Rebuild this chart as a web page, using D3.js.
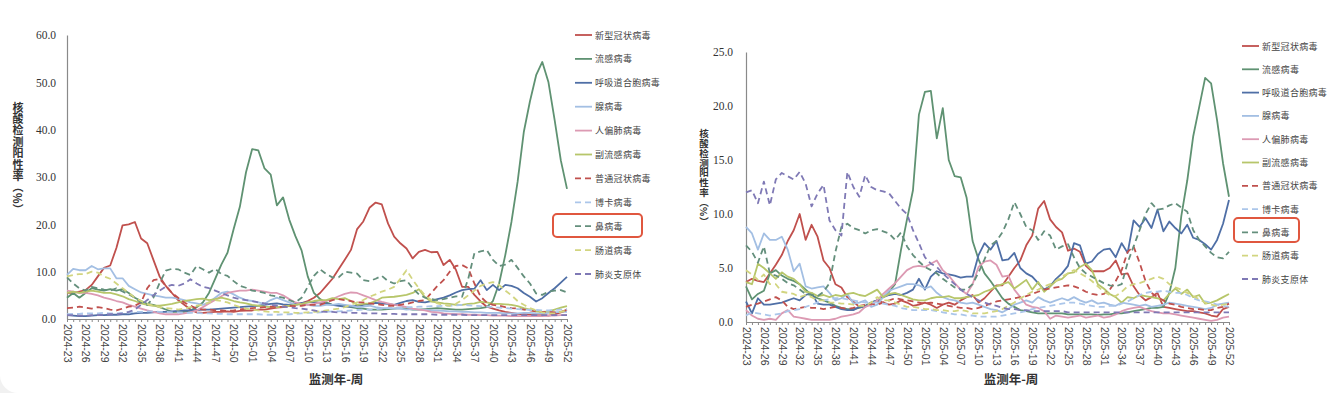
<!DOCTYPE html>
<html>
<head>
<meta charset="utf-8">
<script src="https://cdn.jsdelivr.net/npm/d3@7"></script>
<style>
  html, body { margin: 0; padding: 0; background: #f1f1f1; }
  svg { display: block; }
</style>
</head>
<body>
<svg id="chart" width="1337" height="393"></svg>
<script>
// categories: surveillance year-week, 2024-23 .. 2025-52
var weeks = ["2024-23","2024-24","2024-25","2024-26","2024-27","2024-28","2024-29","2024-30","2024-31","2024-32",
  "2024-33","2024-34","2024-35","2024-36","2024-37","2024-38","2024-39","2024-40","2024-41","2024-42",
  "2024-43","2024-44","2024-45","2024-46","2024-47","2024-48","2024-49","2024-50","2024-51","2024-52",
  "2025-01","2025-02","2025-03","2025-04","2025-05","2025-06","2025-07","2025-08","2025-09","2025-10",
  "2025-11","2025-12","2025-13","2025-14","2025-15","2025-16","2025-17","2025-18","2025-19","2025-20",
  "2025-21","2025-22","2025-23","2025-24","2025-25","2025-26","2025-27","2025-28","2025-29","2025-30",
  "2025-31","2025-32","2025-33","2025-34","2025-35","2025-36","2025-37","2025-38","2025-39","2025-40",
  "2025-41","2025-42","2025-43","2025-44","2025-45","2025-46","2025-47","2025-48","2025-49","2025-50",
  "2025-51","2025-52"];

var seriesNames = ["新型冠状病毒","流感病毒","呼吸道合胞病毒","腺病毒","人偏肺病毒","副流感病毒",
  "普通冠状病毒","博卡病毒","鼻病毒","肠道病毒","肺炎支原体"];

var yTicksA = [0, 10, 20, 30, 40, 50, 60];
var yTicksB = [0, 5, 10, 15, 20, 25];

// ---- left panel values (%)
var covidA = [5.5,5.5,5.8,6.1,7.2,9.0,10.8,11.3,15.0,19.8, 20.0,20.5,17.0,16.0,12.5,9.0,7.0,5.5,4.0,3.0,
  2.0,1.4,1.3,1.4,1.5,1.5,1.6,1.5,1.7,1.8, 1.8,2.0,2.0,2.2,2.4,2.5,2.8,3.0,3.3,3.8,
  4.5,5.5,7.0,8.5,10.5,12.5,14.6,19.0,20.6,23.5, 24.6,24.2,20.2,17.4,16.0,14.9,12.8,14.2,14.6,14.1,
  14.2,11.4,12.5,10.4,6.8,6.8,5.1,3.7,2.6,2.2, 1.8,1.5,1.3,1.1,1.0,0.9,0.8,0.8,0.7,1.0, 1.4,2.0];
var fluA = [4.5,5.5,4.5,5.5,6.5,6.2,6.0,6.3,6.0,6.3, 5.5,4.5,3.8,3.2,3.0,2.5,2.0,1.5,1.5,1.5,
  1.8,2.5,3.5,5.5,8.5,11.5,14.0,19.0,23.7,31.0, 35.9,35.6,31.8,30.5,24.0,25.7,21.0,17.5,14.5,9.0,
  5.5,4.2,3.5,3.0,3.0,2.8,2.5,2.3,2.2,2.0, 2.0,2.0,2.1,2.2,2.3,2.2,2.0,2.0,2.1,2.2,
  2.3,2.2,2.1,2.0,2.0,2.1,2.2,2.3,2.5,3.8, 7.5,13.5,20.5,29.0,39.5,46.0,51.5,54.3,50.0,42.0, 33.5,27.5];
var rsvA = [0.8,0.7,0.6,0.6,0.7,0.8,0.8,0.9,0.9,1.0, 1.0,1.2,1.3,1.3,1.4,1.5,1.5,1.6,1.7,1.8,
  1.8,1.9,2.0,2.0,2.1,2.2,2.3,2.4,2.5,2.6, 2.7,2.8,3.0,3.2,3.3,3.1,3.0,3.2,3.4,3.5,
  3.6,3.4,3.2,3.0,2.8,2.6,2.6,2.8,3.0,3.2, 3.4,3.3,3.2,3.0,3.4,3.8,4.0,3.6,3.5,3.8,
  4.2,4.5,5.0,5.6,6.1,6.3,6.4,8.2,6.1,7.2, 6.1,7.2,7.0,6.5,5.5,4.7,3.7,4.4,5.5,6.5, 7.7,8.9];
var adenoA = [9.3,10.6,10.3,10.3,11.2,10.5,10.7,10.7,8.6,8.6, 7.0,6.3,5.6,5.3,5.0,4.8,4.5,4.5,4.3,4.0,
  3.5,3.3,3.0,3.5,4.5,5.5,5.8,5.2,4.5,4.0, 3.8,3.5,3.2,4.0,4.5,4.0,3.5,3.0,3.2,3.0,
  2.8,2.8,3.0,3.0,3.2,3.0,2.8,2.5,2.6,2.8, 2.5,2.3,2.3,2.2,2.2,2.0,2.1,2.0,2.0,1.8,
  1.8,1.7,1.6,1.6,1.5,1.5,1.4,1.4,1.3,1.3, 1.3,1.2,1.2,1.2,1.3,1.3,1.2,1.2,1.3,1.4, 1.5,1.5];
var hmpvA = [6.0,5.8,5.5,5.5,5.3,5.0,4.5,4.2,3.8,3.5, 3.0,2.6,2.2,1.8,1.5,1.2,1.0,1.0,1.0,1.2,
  1.4,1.8,2.5,3.3,4.0,4.8,5.5,5.8,6.0,6.0, 6.2,6.0,5.8,5.5,5.5,5.0,4.2,3.5,3.2,3.0,
  3.2,3.5,3.8,4.2,4.8,5.3,5.6,5.5,5.0,4.5, 4.0,3.6,3.3,3.0,2.8,2.5,2.2,2.0,1.8,1.5,
  1.4,1.2,1.1,1.0,1.0,0.9,0.9,0.8,0.8,0.7, 0.7,0.7,0.6,0.6,0.6,0.6,0.6,0.6,0.7,0.7, 0.8,0.8];
var parafluA = [5.5,5.8,5.5,5.8,6.0,5.8,5.5,5.5,5.2,4.8, 4.2,3.8,3.3,3.0,2.8,2.8,3.0,3.2,3.5,3.8,
  4.0,4.2,4.3,4.0,4.2,4.5,4.2,3.8,3.5,3.3, 3.0,2.8,2.6,2.5,2.5,2.6,2.8,3.0,3.2,3.5,
  3.8,4.0,4.0,4.4,4.2,4.4,3.8,3.0,3.2,3.3, 3.8,4.5,4.6,4.7,4.9,5.1,5.5,6.3,4.6,3.7,
  3.5,3.3,3.2,3.0,3.0,3.2,3.3,3.6,3.5,3.2, 3.2,3.1,3.0,2.7,2.3,2.0,1.6,1.5,1.6,2.0, 2.4,2.7];
var cocA = [2.3,2.4,2.6,2.4,2.2,2.5,2.3,2.0,1.8,2.2, 2.6,2.8,3.5,6.5,8.2,8.5,7.0,5.5,4.5,3.5,
  2.8,2.2,2.0,2.0,1.8,1.8,1.7,1.8,2.0,2.2, 2.3,2.4,2.5,2.6,2.5,2.6,2.8,2.7,2.8,3.0,
  3.0,3.0,3.5,4.0,4.2,4.0,3.8,3.5,3.5,3.3, 3.2,3.0,2.8,2.8,3.0,3.2,3.5,3.8,4.0,5.5,
  7.0,8.2,10.0,11.2,11.4,10.7,7.5,4.7,3.5,3.0, 2.8,2.5,2.3,2.2,2.0,1.8,1.6,1.5,1.5,1.4, 1.5,1.8];
var bocaA = [1.0,1.1,1.1,1.2,1.2,1.2,1.3,1.2,1.2,1.3, 1.4,1.5,1.5,1.6,1.6,1.5,1.5,1.4,1.4,1.3,
  1.3,1.3,1.2,1.2,1.1,1.1,1.0,1.0,1.0,1.0, 1.0,1.0,0.9,0.9,0.9,1.0,1.0,1.1,1.2,1.3,
  1.3,1.4,1.5,1.6,1.6,1.7,1.8,1.9,2.0,2.0, 2.1,2.2,2.3,2.4,2.4,2.5,2.5,2.6,2.6,2.7,
  2.7,2.8,2.8,2.9,3.0,2.9,2.8,2.7,2.6,2.5, 2.4,2.3,2.2,2.1,2.0,1.9,1.9,1.8,1.8,1.9, 2.0,2.1];
var rhinoA = [8.8,7.5,6.5,6.0,6.8,6.5,6.2,6.0,6.5,5.8, 5.2,4.5,3.5,3.0,4.5,7.6,10.2,10.6,10.5,9.8,
  9.3,11.2,10.5,9.8,10.6,9.5,9.1,8.0,7.0,6.6, 6.0,5.8,5.5,5.0,4.8,4.5,4.0,3.5,4.5,6.8,
  9.1,10.5,9.5,8.8,8.8,10.0,9.8,9.6,8.2,8.0, 8.5,9.1,8.0,7.5,8.0,8.2,6.5,5.2,4.5,4.2,
  4.0,4.2,4.5,4.8,4.7,8.5,13.9,14.3,14.6,12.5, 11.2,11.5,12.5,10.8,9.0,7.5,5.4,5.1,5.8,6.0, 6.1,5.6];
var enteroA = [9.0,9.3,9.5,9.5,10.0,9.8,9.0,8.5,7.5,6.5, 5.5,4.5,3.8,3.2,2.8,2.5,2.3,2.2,2.0,2.2,
  2.5,2.8,3.0,3.5,4.0,3.8,3.5,3.0,2.5,2.2, 2.0,1.8,1.6,1.5,1.5,1.4,1.4,1.3,1.3,1.4,
  1.5,1.6,1.8,2.0,2.2,2.5,3.0,3.5,4.0,4.7, 5.2,5.8,6.2,6.8,8.5,10.3,8.3,6.5,5.0,4.0,
  3.3,3.0,2.8,3.2,4.0,5.0,6.0,7.0,7.5,7.8, 7.2,6.0,5.0,3.8,3.0,2.3,1.8,1.4,1.2,1.2, 1.5,1.8];
var mycoA = [0.8,0.8,0.7,0.7,0.8,0.8,0.9,1.0,1.0,1.2, 1.5,2.0,3.0,4.0,5.0,6.0,6.8,7.2,7.0,7.5,
  8.4,7.5,6.8,6.5,6.0,5.5,5.0,4.5,4.2,4.0, 3.8,3.5,3.3,3.0,2.8,2.6,2.5,2.3,2.2,2.0,
  1.8,1.6,1.5,1.5,1.4,1.4,1.3,1.3,1.2,1.2, 1.2,1.1,1.1,1.1,1.0,1.0,1.0,1.0,1.0,1.0,
  0.9,0.9,0.9,0.9,0.9,0.8,0.8,0.8,0.8,0.8, 0.8,0.8,0.8,0.8,0.8,0.8,0.8,0.8,0.8,0.8, 0.8,0.8];

// ---- right panel values (%)
var covidB = [3.7,4.0,3.8,3.7,4.5,5.3,6.2,7.5,8.5,10.0, 7.6,9.0,7.9,5.7,5.0,3.5,3.2,2.3,1.9,1.4,
  1.5,1.6,2.0,1.8,1.6,1.7,2.0,1.8,1.5,1.6, 1.8,1.6,1.3,1.6,1.8,1.6,2.0,2.3,2.5,1.8,
  2.2,2.8,3.4,3.4,4.2,5.0,5.7,7.1,8.0,10.5, 11.2,9.5,8.8,8.3,6.6,6.8,6.5,5.2,4.7,4.7,
  4.7,5.0,5.7,4.4,4.5,3.3,2.5,2.0,2.3,2.7, 1.4,1.3,1.2,1.1,1.0,1.0,0.9,0.8,0.6,0.5, 1.2,1.4];
var fluB = [3.3,2.1,2.6,2.9,4.5,4.8,4.3,4.0,3.8,3.5, 3.0,2.5,2.2,2.0,1.8,1.5,1.3,1.2,1.2,1.3,
  1.5,1.8,2.0,2.3,2.8,3.5,6.7,9.5,12.2,19.2, 21.3,21.4,17.0,19.8,15.0,13.5,13.4,11.5,7.5,5.8,
  4.5,3.8,3.0,2.2,1.7,1.4,1.1,1.0,0.9,0.8, 0.8,0.8,0.8,0.8,0.7,0.7,0.7,0.7,0.7,0.65,
  0.7,0.7,0.8,0.8,0.9,1.0,1.1,1.2,1.3,1.3, 1.4,2.7,5.0,9.8,13.1,17.2,19.9,22.6,22.1,18.7, 14.7,11.6];
var rsvB = [1.9,0.8,2.2,1.6,1.6,1.7,1.8,2.0,2.2,2.0, 2.5,2.7,1.7,1.6,1.6,1.4,1.2,1.1,1.1,1.4,
  1.4,1.8,2.0,2.3,2.5,2.6,2.5,2.7,3.0,4.0, 3.0,4.2,4.7,4.5,4.4,4.3,4.1,4.2,4.2,6.2,
  7.3,6.7,7.5,5.7,5.8,6.4,5.0,4.5,4.2,3.6, 3.0,3.3,4.0,4.5,5.2,7.3,7.1,5.4,5.6,6.3,
  6.7,6.8,6.0,7.3,6.4,9.4,8.8,9.6,8.7,10.4, 8.4,9.3,8.7,8.2,9.0,7.8,7.6,7.2,6.7,7.6, 9.1,11.3];
var adenoB = [8.8,8.2,6.7,8.2,7.6,7.6,7.9,6.7,4.7,5.4, 3.3,3.1,3.2,3.3,2.7,2.0,2.2,2.6,1.7,1.8,
  2.0,1.4,1.6,2.3,2.9,3.1,3.3,3.5,3.5,3.4, 3.1,3.3,2.7,2.3,2.1,2.0,1.8,1.7,1.8,1.6,
  1.4,1.2,1.1,0.9,1.2,1.6,1.8,2.0,1.8,2.3, 2.0,1.8,2.0,2.2,2.0,2.3,2.0,1.8,2.0,1.7,
  1.8,1.6,1.5,1.8,1.7,1.6,1.5,1.6,1.4,1.5, 1.6,1.8,1.7,1.6,1.5,1.4,1.3,1.2,1.3,1.6, 1.7,1.8];
var hmpvB = [1.1,0.6,0.3,0.2,0.3,0.2,0.8,1.1,0.5,0.4, 0.3,0.2,0.2,0.2,0.2,0.3,0.5,0.6,0.7,0.9,
  1.4,1.6,2.0,2.6,3.1,3.6,4.2,4.8,5.1,5.2, 5.1,5.4,5.7,4.8,4.3,3.6,3.0,2.6,3.5,5.1,
  5.6,5.7,5.3,4.2,4.3,3.0,2.3,1.6,1.4,1.3, 1.0,0.3,0.6,0.5,0.4,0.5,0.6,0.4,0.5,0.6,
  0.4,0.5,0.7,1.0,1.2,1.3,1.4,1.2,1.0,0.9, 0.8,0.8,0.7,0.6,0.5,0.4,0.3,0.2,0.1,0.2, 0.4,0.5];
var parafluB = [3.7,3.5,5.4,5.0,4.5,4.0,4.6,4.2,4.0,3.5, 2.8,2.7,2.4,2.5,2.3,2.5,2.4,2.6,2.7,2.5,
  2.4,2.7,3.0,2.3,2.6,2.7,2.5,2.3,2.1,2.0, 2.0,2.2,2.3,2.3,2.4,2.2,2.2,2.3,2.4,2.5,
  2.8,3.0,3.3,3.5,3.7,3.1,3.5,3.9,3.0,3.7, 2.8,3.3,3.8,4.0,4.5,4.6,5.1,5.4,4.8,3.5,
  3.1,2.6,2.3,1.8,2.3,2.2,2.5,2.4,2.3,2.2, 2.0,2.6,3.1,2.6,3.0,2.3,2.5,1.7,1.8,2.0, 2.3,2.6];
var cocB = [1.4,1.6,1.7,1.9,2.1,2.3,2.0,1.4,1.2,1.3, 1.4,1.3,1.3,1.2,1.3,1.4,1.3,1.2,1.3,1.5,
  1.6,1.7,1.6,1.8,2.0,2.2,2.1,2.0,1.9,1.8, 1.7,1.8,1.7,1.6,1.5,1.4,1.3,1.3,1.2,1.3,
  1.5,1.7,1.9,2.0,2.1,2.2,2.3,2.4,2.6,2.8, 3.0,3.1,3.2,3.3,3.4,3.3,3.1,2.8,2.6,2.5,
  2.6,3.0,3.8,4.8,6.5,7.0,5.5,3.8,2.7,2.3, 2.0,1.7,1.6,1.4,1.3,1.2,1.2,1.1,1.1,1.3, 1.4,1.7];
var bocaB = [0.6,0.9,0.8,0.7,0.6,0.7,0.8,1.0,1.1,1.2, 1.4,1.6,1.8,2.0,2.1,2.2,2.2,2.1,2.0,1.9,
  1.8,1.8,1.8,1.7,1.6,1.5,1.3,1.2,1.1,1.1, 1.1,1.1,1.0,0.9,0.8,0.7,0.7,0.6,0.6,0.5,
  0.5,0.5,0.5,0.6,0.7,0.8,0.9,1.0,1.2,1.3, 1.4,1.5,1.6,1.7,1.8,1.8,1.7,1.6,1.5,1.4,
  1.4,1.5,1.5,1.7,1.9,2.2,2.5,2.7,2.8,2.8, 2.9,2.8,2.7,2.7,2.5,2.2,2.0,1.9,1.8,1.6, 1.5,1.4];
var rhinoB = [7.1,6.5,5.5,7.0,4.5,4.3,4.0,3.6,3.4,3.0, 2.6,2.5,2.4,2.8,3.6,6.5,8.8,9.1,8.7,8.5,
  8.2,8.5,8.6,8.4,8.2,7.6,8.3,7.0,6.2,5.6, 5.1,4.8,4.5,4.0,3.6,3.2,3.0,3.0,3.5,4.6,
  5.8,7.1,7.5,8.3,9.5,11.1,10.0,8.8,8.5,7.6, 8.4,8.0,6.7,7.0,7.2,6.0,5.0,4.5,4.2,3.9,
  3.6,3.4,3.3,3.5,5.5,7.0,8.5,10.0,11.0,10.4, 10.5,10.8,11.0,10.6,10.2,8.5,7.6,7.0,6.4,6.0, 5.9,6.5];
var enteroB = [4.8,4.4,3.9,4.4,3.5,3.5,2.8,2.7,2.6,2.3, 2.5,2.3,2.0,2.0,1.8,1.8,1.7,1.7,1.6,1.5,
  1.5,1.8,2.3,2.0,2.0,1.8,1.6,1.4,1.4,1.3, 1.2,1.2,1.1,1.1,1.0,1.0,1.1,1.0,0.8,0.8,
  0.8,0.9,1.0,1.2,1.5,1.8,2.2,2.5,2.8,3.0, 3.3,3.5,3.8,4.2,4.5,4.8,4.5,4.2,3.8,3.3,
  2.8,2.5,2.4,2.8,3.3,3.5,3.6,3.8,4.0,4.2, 4.0,3.5,3.2,3.0,2.7,2.4,2.1,1.8,1.6,1.5, 1.6,1.7];
var mycoB = [12.0,12.2,11.0,13.0,10.8,13.2,13.8,13.5,13.2,13.9, 12.8,10.7,11.9,12.7,9.4,8.5,8.0,13.9,12.5,11.6,
  13.6,12.5,12.2,12.1,11.9,11.2,10.5,10.0,8.5,7.3, 6.0,5.4,5.1,4.5,4.0,3.5,3.0,2.6,2.3,2.0,
  1.8,1.6,1.5,1.3,1.2,1.2,1.1,1.1,1.0,1.0, 1.0,1.0,1.0,1.0,0.9,0.9,0.9,0.9,0.9,0.9,
  0.9,0.9,0.9,0.9,0.9,0.9,0.9,0.9,0.9,0.9, 0.9,0.9,0.9,0.9,0.9,0.9,0.9,0.9,0.9,0.9, 0.9,0.9];

// line styles, same order as seriesNames
var seriesColors = ["#c0504d","#5f9272","#4f6fa6","#a3bfe3","#dc9ab3","#b7c66a",
  "#c0504d","#abc6ea","#648f7c","#d2d580","#7f79b5"];
var seriesDashed = [false,false,false,false,false,false,true,true,true,true,true];

var yTitle = "核酸检测阳性率（%）";
var xTitle = "监测年-周";

var svg = d3.select("#chart");
var axisColor = "#8a8a8a";
var serif = "'Liberation Serif', 'Times New Roman', serif";
var cjk = "'Noto Sans CJK SC', sans-serif";

// card background
svg.append("rect").attr("x", 0).attr("y", -30).attr("width", 1380).attr("height", 423)
  .attr("rx", 18).attr("fill", "#ffffff");

var panels = [
  { data: [covidA, fluA, rsvA, adenoA, hmpvA, parafluA, cocA, bocaA, rhinoA, enteroA, mycoA],
    yMax: 60, yTicks: yTicksA, left: 67, right: 567, top: 35, bottom: 319,
    tickFont: 11.5, tickPad: 11,
    titleX: 18, titleY: 102, titleLen: 113, titleFont: 11,
    xTitleX: 336, xTitleY: 384,
    legX: 575, legY: 35, legStep: 23.9,
    box: [553, 214, 89, 23] },
  { data: [covidB, fluB, rsvB, adenoB, hmpvB, parafluB, cocB, bocaB, rhinoB, enteroB, mycoB],
    yMax: 25, yTicks: yTicksB, left: 746, right: 1229, top: 52, bottom: 322,
    tickFont: 11.5, tickPad: 13,
    titleX: 704, titleY: 129, titleLen: 97, titleFont: 9.5,
    xTitleX: 1011, xTitleY: 384,
    legX: 1242, legY: 46, legStep: 23.3,
    box: [1234, 218, 65, 24] }
];

panels.forEach(function (p) {
  var x = d3.scaleLinear().domain([0, weeks.length - 1]).range([p.left, p.right]);
  var y = d3.scaleLinear().domain([0, p.yMax]).range([p.bottom, p.top]);
  var g = svg.append("g");

  // y axis
  var ya = g.append("g").attr("transform", "translate(" + p.left + ",0)")
    .call(d3.axisLeft(y).tickValues(p.yTicks).tickFormat(d3.format(".1f"))
      .tickSize(0).tickPadding(p.tickPad));
  ya.select(".domain").attr("stroke", axisColor).attr("stroke-width", 1.2);
  ya.selectAll("text").attr("font-family", serif).attr("font-size", p.tickFont).attr("fill", "#333");

  // x axis, a tick for every week, label every third
  var xa = g.append("g").attr("transform", "translate(0," + p.bottom + ")")
    .call(d3.axisBottom(x).tickValues(d3.range(weeks.length))
      .tickSize(3).tickSizeOuter(0)
      .tickFormat(function (i) { return i % 3 === 0 ? weeks[i] : ""; }));
  xa.select(".domain").attr("stroke", axisColor).attr("stroke-width", 1.2);
  xa.selectAll(".tick line").attr("stroke", axisColor);
  xa.selectAll("text")
    .attr("transform", "rotate(90)")
    .attr("text-anchor", "start")
    .attr("x", 5).attr("y", 0).attr("dy", "0.35em")
    .attr("font-family", "'Liberation Sans', Arial, sans-serif")
    .attr("font-size", 10.5).attr("fill", "#444");

  // series
  var line = d3.line().x(function (d, i) { return x(i); }).y(function (d) { return y(d); });
  p.data.forEach(function (vals, k) {
    g.append("path").datum(vals)
      .attr("d", line)
      .attr("fill", "none")
      .attr("stroke", seriesColors[k])
      .attr("stroke-width", 1.8)
      .attr("stroke-linejoin", "round")
      .attr("stroke-dasharray", seriesDashed[k] ? "6,4" : null);
  });

  // y title, written vertically as one text
  g.append("text")
    .attr("x", p.titleX).attr("y", p.titleY)
    .style("writing-mode", "vertical-rl")
    .attr("text-anchor", "start")
    .attr("textLength", p.titleLen).attr("lengthAdjust", "spacing")
    .attr("font-family", cjk)
    .attr("font-size", p.titleFont).attr("font-weight", 700).attr("fill", "#333")
    .text(yTitle);

  // x title
  g.append("text").attr("x", p.xTitleX).attr("y", p.xTitleY)
    .attr("text-anchor", "middle").attr("font-family", cjk)
    .attr("font-size", 12.5).attr("font-weight", 700).attr("fill", "#333")
    .text(xTitle);

  // legend
  var leg = g.append("g");
  seriesNames.forEach(function (name, k) {
    var ly = p.legY + k * p.legStep;
    leg.append("line").attr("x1", p.legX).attr("x2", p.legX + 17)
      .attr("y1", ly).attr("y2", ly)
      .attr("stroke", seriesColors[k]).attr("stroke-width", 1.8)
      .attr("stroke-dasharray", seriesDashed[k] ? "6,4" : null);
    leg.append("text").attr("x", p.legX + 20).attr("y", ly)
      .attr("dominant-baseline", "central")
      .attr("font-family", cjk).attr("font-size", 9).attr("letter-spacing", 0.3)
      .attr("fill", "#444").text(name);
  });

  // highlight box
  g.append("rect").attr("x", p.box[0]).attr("y", p.box[1])
    .attr("width", p.box[2]).attr("height", p.box[3]).attr("rx", 4)
    .attr("fill", "none").attr("stroke", "#e0573f").attr("stroke-width", 2);
});
</script>
</body>
</html>
